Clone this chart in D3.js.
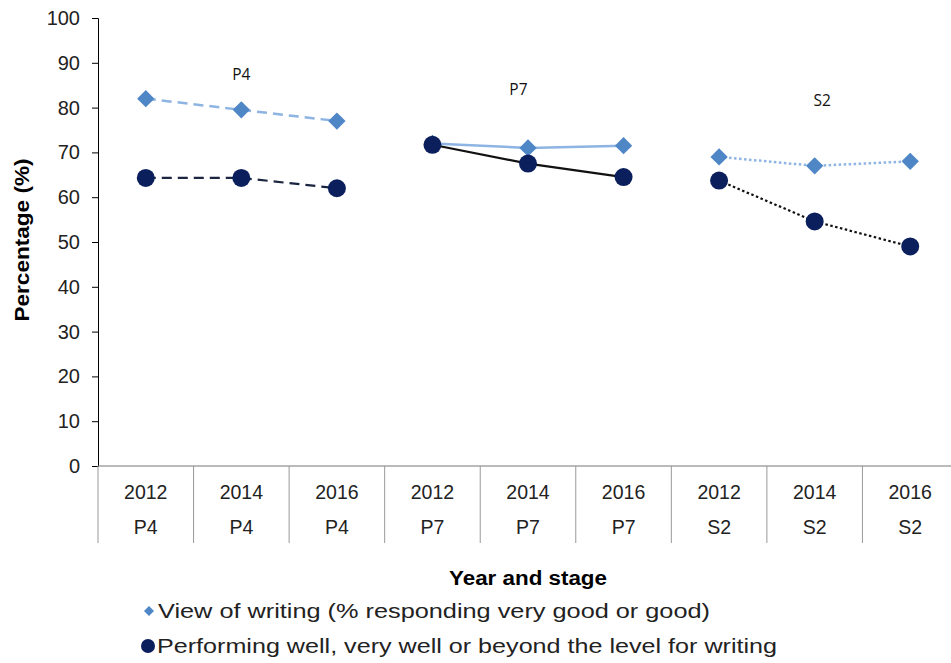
<!DOCTYPE html>
<html><head><meta charset="utf-8">
<script src="https://cdn.jsdelivr.net/npm/d3@7"></script>
<style>body{margin:0;background:#fff;}svg{display:block;font-family:"Liberation Sans",Arial,sans-serif;}</style>
</head><body><svg id="c" width="951" height="663"></svg>
<script>
const years = ["2012","2014","2016","2012","2014","2016","2012","2014","2016"];
const stages = ["P4","P4","P4","P7","P7","P7","S2","S2","S2"];
const groups = ["P4","P7","S2"];
const viewValues = [82, 79.5, 77, 72, 71, 71.5, 69, 67, 68];
const perfValues = [64.3, 64.3, 62, 71.7, 67.5, 64.5, 63.7, 54.6, 49];
const yTicks = [0,10,20,30,40,50,60,70,80,90,100];
const groupLabelValues = [87.3, 83.9, 81.5];
const seriesNames = ["View of writing (% responding very good or good)","Performing well, very well or beyond the level for writing"];

const svg = d3.select("#c");
const L=98, R=958, T=18, B=466;
const idx = d3.range(years.length);
const x = d3.scaleBand().domain(idx).range([L,R]);
const y = d3.scaleLinear().domain([0,100]).range([B,T]);
const cx = i => x(i)+x.bandwidth()/2;

// y axis
const ya = svg.append("g").attr("transform",`translate(${L},0)`)
  .call(d3.axisLeft(y).tickValues(yTicks).tickSize(6).tickPadding(12));
ya.select(".domain").attr("stroke","#000");
ya.selectAll(".tick line").attr("stroke","#000");
ya.selectAll("text").attr("font-size",20).attr("fill","#222").attr("font-family","Liberation Sans, Arial");

// x axis baseline + separators
svg.append("line").attr("x1",L).attr("x2",R).attr("y1",B).attr("y2",B).attr("stroke","#777");
svg.selectAll(".sep").data(d3.range(years.length+1)).enter().append("line")
  .attr("x1",i=>L+i*x.bandwidth()).attr("x2",i=>L+i*x.bandwidth())
  .attr("y1",B).attr("y2",543).attr("stroke","#999");
svg.selectAll(".yr").data(idx).enter().append("text")
  .attr("x",cx).attr("y",499).attr("text-anchor","middle").attr("font-size",19.5).attr("fill","#222").text(i=>years[i]);
svg.selectAll(".st").data(idx).enter().append("text")
  .attr("x",cx).attr("y",534).attr("text-anchor","middle").attr("font-size",19.5).attr("fill","#222").text(i=>stages[i]);

// axis titles
svg.append("text").attr("x",528).attr("y",585).attr("text-anchor","middle").attr("font-weight","bold").attr("font-size",20)
  .attr("textLength",158).attr("lengthAdjust","spacingAndGlyphs").attr("fill","#000").text("Year and stage");
svg.append("text").attr("transform","translate(29,240) rotate(-90)").attr("text-anchor","middle").attr("font-weight","bold").attr("font-size",20)
  .attr("textLength",163).attr("lengthAdjust","spacingAndGlyphs").attr("fill","#000").text("Percentage  (%)");

// lines per group
const dashes = ["10,6", null, "2.5,2.5"];
const labelShift = [0.0, -0.1, 0.08];
groups.forEach((g,gi)=>{
  const ids = idx.filter(i=>stages[i]===g);
  const lv = d3.line().x(i=>cx(i)).y(i=>y(viewValues[i]));
  const lp = d3.line().x(i=>cx(i)).y(i=>y(perfValues[i]));
  svg.append("path").attr("d",lv(ids)).attr("fill","none").attr("stroke","#8db4e2").attr("stroke-width",2.5)
    .attr("stroke-dasharray",dashes[gi]);
  svg.append("path").attr("d",lp(ids)).attr("fill","none").attr("stroke",gi===0?"#1a2540":"#111").attr("stroke-width",2.2)
    .attr("stroke-dasharray",dashes[gi]);
  svg.append("text").attr("x",cx(ids[1])+labelShift[gi]*x.bandwidth()).attr("y",y(groupLabelValues[gi])+5).attr("text-anchor","middle")
    .attr("font-family","Open Sans, sans-serif").attr("font-size",15.5).attr("fill","#111").text(g);
});

// markers
const diamond = d3.symbol().type(d3.symbolSquare).size(150);
svg.selectAll(".vm").data(idx).enter().append("path")
  .attr("d",diamond).attr("transform",i=>`translate(${cx(i)},${y(viewValues[i])}) rotate(45)`).attr("fill","#4f86c6");
svg.selectAll(".pm").data(idx).enter().append("circle")
  .attr("cx",cx).attr("cy",i=>y(perfValues[i])).attr("r",9).attr("fill","#0b1f5c");

// legend
const lg = svg.append("g");
lg.append("path").attr("d",d3.symbol().type(d3.symbolSquare).size(50)).attr("transform","translate(149,611) rotate(45)").attr("fill","#4f86c6");
lg.append("text").attr("x",158).attr("y",618).attr("font-size",20).attr("textLength",552).attr("lengthAdjust","spacingAndGlyphs")
  .attr("fill","#222").text(seriesNames[0]);
lg.append("circle").attr("cx",148).attr("cy",646).attr("r",7).attr("fill","#0b1f5c");
lg.append("text").attr("x",157).attr("y",653).attr("font-size",20).attr("textLength",620).attr("lengthAdjust","spacingAndGlyphs")
  .attr("fill","#222").text(seriesNames[1]);
</script></body></html>
